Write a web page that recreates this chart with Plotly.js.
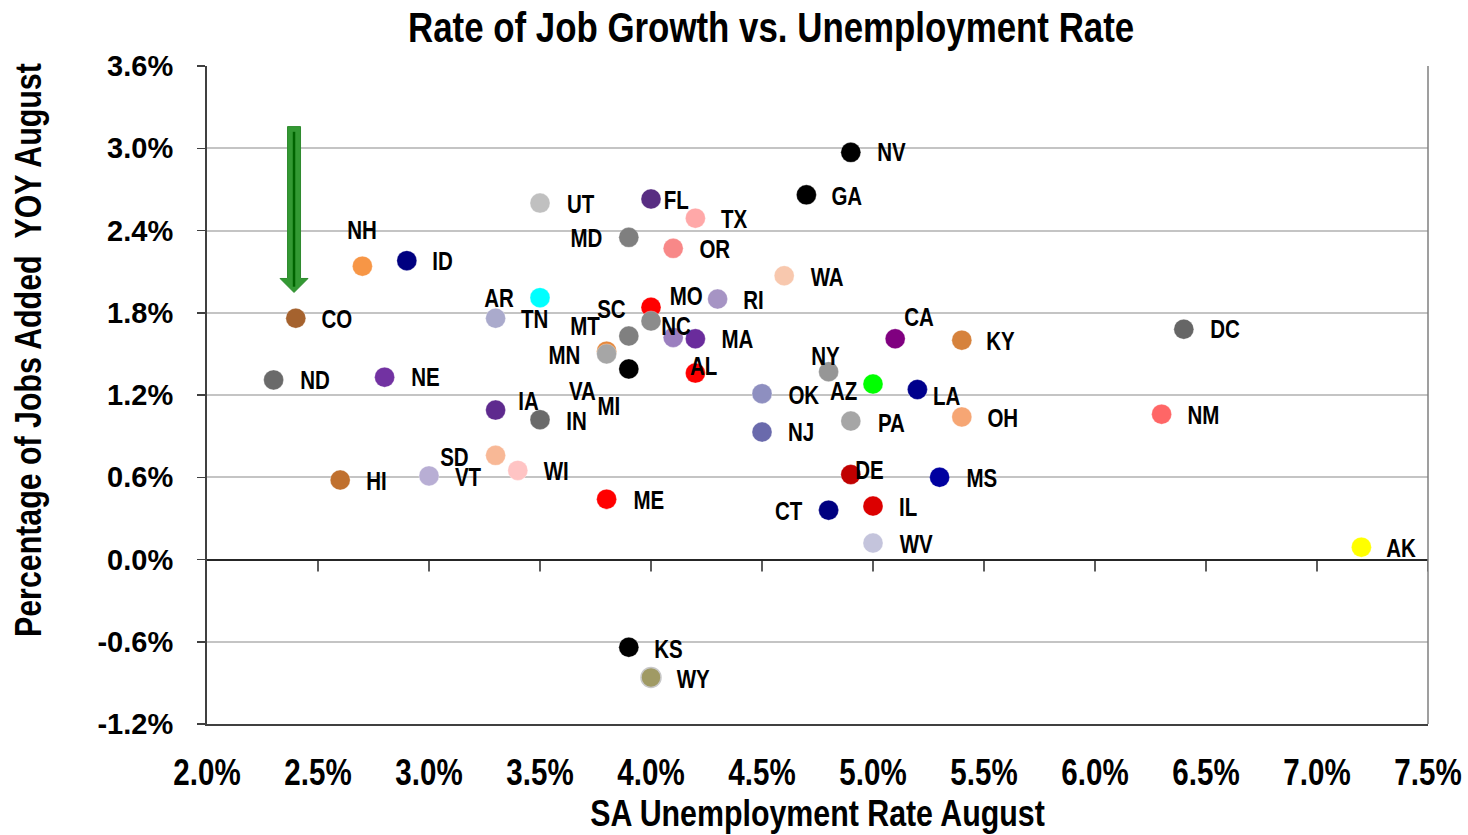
<!DOCTYPE html>
<html>
<head>
<meta charset="utf-8">
<script src="https://cdn.plot.ly/plotly-3.0.1.min.js"></script>
<style>html,body{margin:0;padding:0;background:#fff;}#chart{width:1468px;height:835px;}</style>
</head>
<body>
<div id="chart"></div>
<script>
// ---- Data ----
const states = ['CO','NH','ID','UT','AR','TN','NV','GA','FL','TX','MD','OR','WA','MO','RI','SC','VA','NC','MA','CA','KY','DC','MT','MN','MI','AL','NY','AZ','LA','OK','PA','OH','NJ','DE','MS','IL','CT','WV','NM','AK','KS','WY','ND','NE','IA','IN','SD','WI','VT','HI','ME'];
const unemploymentRate = [2.4,2.7,2.9,3.5,3.5,3.3,4.9,4.7,4.0,4.2,3.9,4.1,4.6,4.0,4.3,4.0,3.9,4.1,4.2,5.1,5.4,6.4,3.8,3.8,3.9,4.2,4.8,5.0,5.2,4.5,4.9,5.4,4.5,4.9,5.3,5.0,4.8,5.0,6.3,7.2,3.9,4.0,2.3,2.8,3.3,3.5,3.3,3.4,3.0,2.6,3.8];
const jobGrowth = [1.76,2.14,2.18,2.60,1.91,1.76,2.97,2.66,2.63,2.49,2.35,2.27,2.07,1.84,1.90,1.74,1.63,1.62,1.61,1.61,1.60,1.68,1.52,1.50,1.39,1.36,1.37,1.28,1.24,1.21,1.01,1.04,0.93,0.62,0.60,0.39,0.36,0.12,1.06,0.09,-0.64,-0.86,1.31,1.33,1.09,1.02,0.76,0.65,0.61,0.58,0.44];
const xTickVals = [2.0,2.5,3.0,3.5,4.0,4.5,5.0,5.5,6.0,6.5,7.0,7.5];
const xTickText = ['2.0%','2.5%','3.0%','3.5%','4.0%','4.5%','5.0%','5.5%','6.0%','6.5%','7.0%','7.5%'];
const yTickVals = [-1.2,-0.6,0.0,0.6,1.2,1.8,2.4,3.0,3.6];
const yTickText = ['-1.2%','-0.6%','0.0%','0.6%','1.2%','1.8%','2.4%','3.0%','3.6%'];

// ---- Styles ----
const stateColor = {CO:'#a5622e',NH:'#f79646',ID:'#000080',UT:'#c0c0c0',AR:'#00ffff',TN:'#aaaacc',NV:'#000000',GA:'#000000',FL:'#582d82',TX:'#ffa8a8',MD:'#7f7f7f',OR:'#f88888',WA:'#f8c8ae',MO:'#ff0000',RI:'#a694c4',SC:'#8c8c8c',VA:'#808080',NC:'#9b7fbf',MA:'#6a2c9c',CA:'#800080',KY:'#d6823c',DC:'#666666',MT:'#e6883c',MN:'#a6a6a6',MI:'#000000',AL:'#ff0000',NY:'#969696',AZ:'#00ff00',LA:'#00008c',OK:'#8e8fc0',PA:'#a6a6a6',OH:'#f6a674',NJ:'#6a6aac',DE:'#c00000',MS:'#0000a0',IL:'#dc0000',CT:'#000080',WV:'#c4c4dc',NM:'#ff6666',AK:'#ffff00',KS:'#000000',WY:'#a09a64',ND:'#6a6a6a',NE:'#7232a2',IA:'#5e2a8e',IN:'#6a6a6a',SD:'#f8b896',WI:'#ffc4c4',VT:'#b8aed4',HI:'#c0702e',ME:'#ff0000'};
// label offsets in pixels [right, down] from the marker centre
const labelOffset = {CO:[41,1],NH:[0,-36],ID:[36,0],UT:[40,1],AR:[-41,0],TN:[39,1],NV:[41,0],GA:[41,1],FL:[25,1],TX:[39,1],MD:[-42,1],OR:[42,1],WA:[43,1],MO:[35,-11],RI:[36,1],SC:[-40,-12],VA:[-46,55],NC:[3,-11],MA:[42,0],CA:[24,-22],KY:[39,1],DC:[41,0],MT:[-22,-25],MN:[-42,1],MI:[-20,37],AL:[8,-7],NY:[-3,-16],AZ:[-30,7],LA:[29,6],OK:[42,1],PA:[41,2],OH:[41,1],NJ:[39,0],DE:[19,-5],MS:[42,1],IL:[35,1],CT:[-40,1],WV:[43,1],NM:[42,1],AK:[40,1],KS:[40,2],WY:[42,2],ND:[41,0],NE:[41,0],IA:[33,-9],IN:[36,1],SD:[-41,2],WI:[39,1],VT:[39,1],HI:[36,1],ME:[42,1]};

// Arial-metric font; "narrow" texts are compressed horizontally afterwards (Arial Narrow look)
const FONT = '"Liberation Sans",Arial,sans-serif';
const NARROW_RATIO = 0.82;

const trace = {
  type: 'scatter', mode: 'markers',
  x: unemploymentRate, y: jobGrowth, text: states,
  hoverinfo: 'text',
  marker: {
    size: 20,
    color: states.map(s => stateColor[s]),
    line: {
      color: states.map(s => s === 'WY' ? '#c8c8c8' : 'rgba(255,255,255,0.6)'),
      width: states.map(s => s === 'WY' ? 1.5 : 0.5)
    }
  }
};

const annotations = states.map((s, i) => ({
  x: unemploymentRate[i], y: jobGrowth[i], xref: 'x', yref: 'y',
  text: s, showarrow: false,
  xshift: labelOffset[s][0], yshift: -labelOffset[s][1],
  xanchor: 'center', yanchor: 'middle',
  font: {family: FONT, size: 25, color: '#000', weight: 700}
}));
annotations.push({
  xref: 'paper', yref: 'paper', x: -0.146, y: 0.568,
  xanchor: 'center', yanchor: 'middle', textangle: -90, showarrow: false,
  text: 'Percentage of Jobs Added\u00a0\u00a0YOY August',
  font: {family: FONT, size: 37, color: '#000', weight: 700}
});

// tick marks hanging below the zero line
const tickLen = 12 / 137.1;
const shapes = xTickVals.slice(1).map(v => ({
  type: 'line', xref: 'x', yref: 'y', x0: v, x1: v, y0: 0, y1: -tickLen,
  line: {color: '#262626', width: 1.5}, layer: 'above'
}));
// right border of plot area
shapes.push({type: 'line', xref: 'paper', yref: 'paper', x0: 1, x1: 1, y0: 0, y1: 1,
  line: {color: '#7f7f7f', width: 1.5}});
// green arrow
const ax = 2.392, hw = 0.0293, hh = 0.063, yTop = 3.158, yHead = 2.05, yTip = 1.948;
shapes.push({type: 'path', xref: 'x', yref: 'y', layer: 'above',
  path: `M ${ax-hw},${yTop} L ${ax+hw},${yTop} L ${ax+hw},${yHead} L ${ax+hh},${yHead} L ${ax},${yTip} L ${ax-hh},${yHead} L ${ax-hw},${yHead} Z`,
  fillcolor: '#339933', line: {color: '#2e8b2e', width: 1}});
shapes.push({type: 'line', xref: 'x', yref: 'y', layer: 'above', x0: ax, x1: ax, y0: 3.12, y1: 1.99,
  line: {color: '#006400', width: 2.5}});

const layout = {
  width: 1468, height: 835,
  margin: {l: 207, r: 40, t: 66, b: 111, pad: 0},
  paper_bgcolor: '#fff', plot_bgcolor: '#fff',
  showlegend: false,
  title: {
    text: 'Rate of Job Growth vs. Unemployment Rate',
    font: {family: FONT, size: 42.5, color: '#000', weight: 700},
    xref: 'paper', x: 0.462, xanchor: 'center',
    yref: 'container', y: 0.968, yanchor: 'middle'
  },
  xaxis: {
    range: [2.0, 7.5], tickmode: 'array', tickvals: xTickVals, ticktext: xTickText,
    showgrid: false, zeroline: false,
    showline: true, linecolor: '#404040', linewidth: 2,
    ticks: '', ticklabelstandoff: 16, ticklabeloverflow: 'allow',
    tickfont: {family: FONT, size: 36, color: '#000', weight: 700},
    title: {text: 'SA Unemployment Rate August', standoff: 8,
      font: {family: FONT, size: 37, color: '#000', weight: 700}}
  },
  yaxis: {
    range: [-1.2, 3.6], tickmode: 'array', tickvals: yTickVals, ticktext: yTickText,
    showgrid: true, gridcolor: '#c4c4c4', gridwidth: 2,
    zeroline: true, zerolinecolor: '#262626', zerolinewidth: 2,
    showline: true, linecolor: '#404040', linewidth: 2,
    ticks: 'outside', ticklen: 8, tickcolor: '#404040', tickwidth: 1.5,
    ticklabelstandoff: 18,
    tickfont: {family: FONT, size: 29, color: '#000', weight: 700}
  },
  annotations: annotations,
  shapes: shapes
};

function narrowTexts() {
  const gd = document.getElementById('chart');
  const sel = ['.gtitle', '.g-xtitle text', '.xtick text', '.annotation-text'];
  sel.forEach(q => gd.querySelectorAll(q).forEach(el => {
    if (el.getAttribute('lengthAdjust')) return;
    const w = el.getComputedTextLength();
    if (w > 0) {
      el.setAttribute('textLength', (w * NARROW_RATIO).toFixed(2));
      el.setAttribute('lengthAdjust', 'spacingAndGlyphs');
    }
  }));
}

Plotly.newPlot('chart', [trace], layout, {displayModeBar: false, staticPlot: true}).then(narrowTexts);
</script>
</body>
</html>
